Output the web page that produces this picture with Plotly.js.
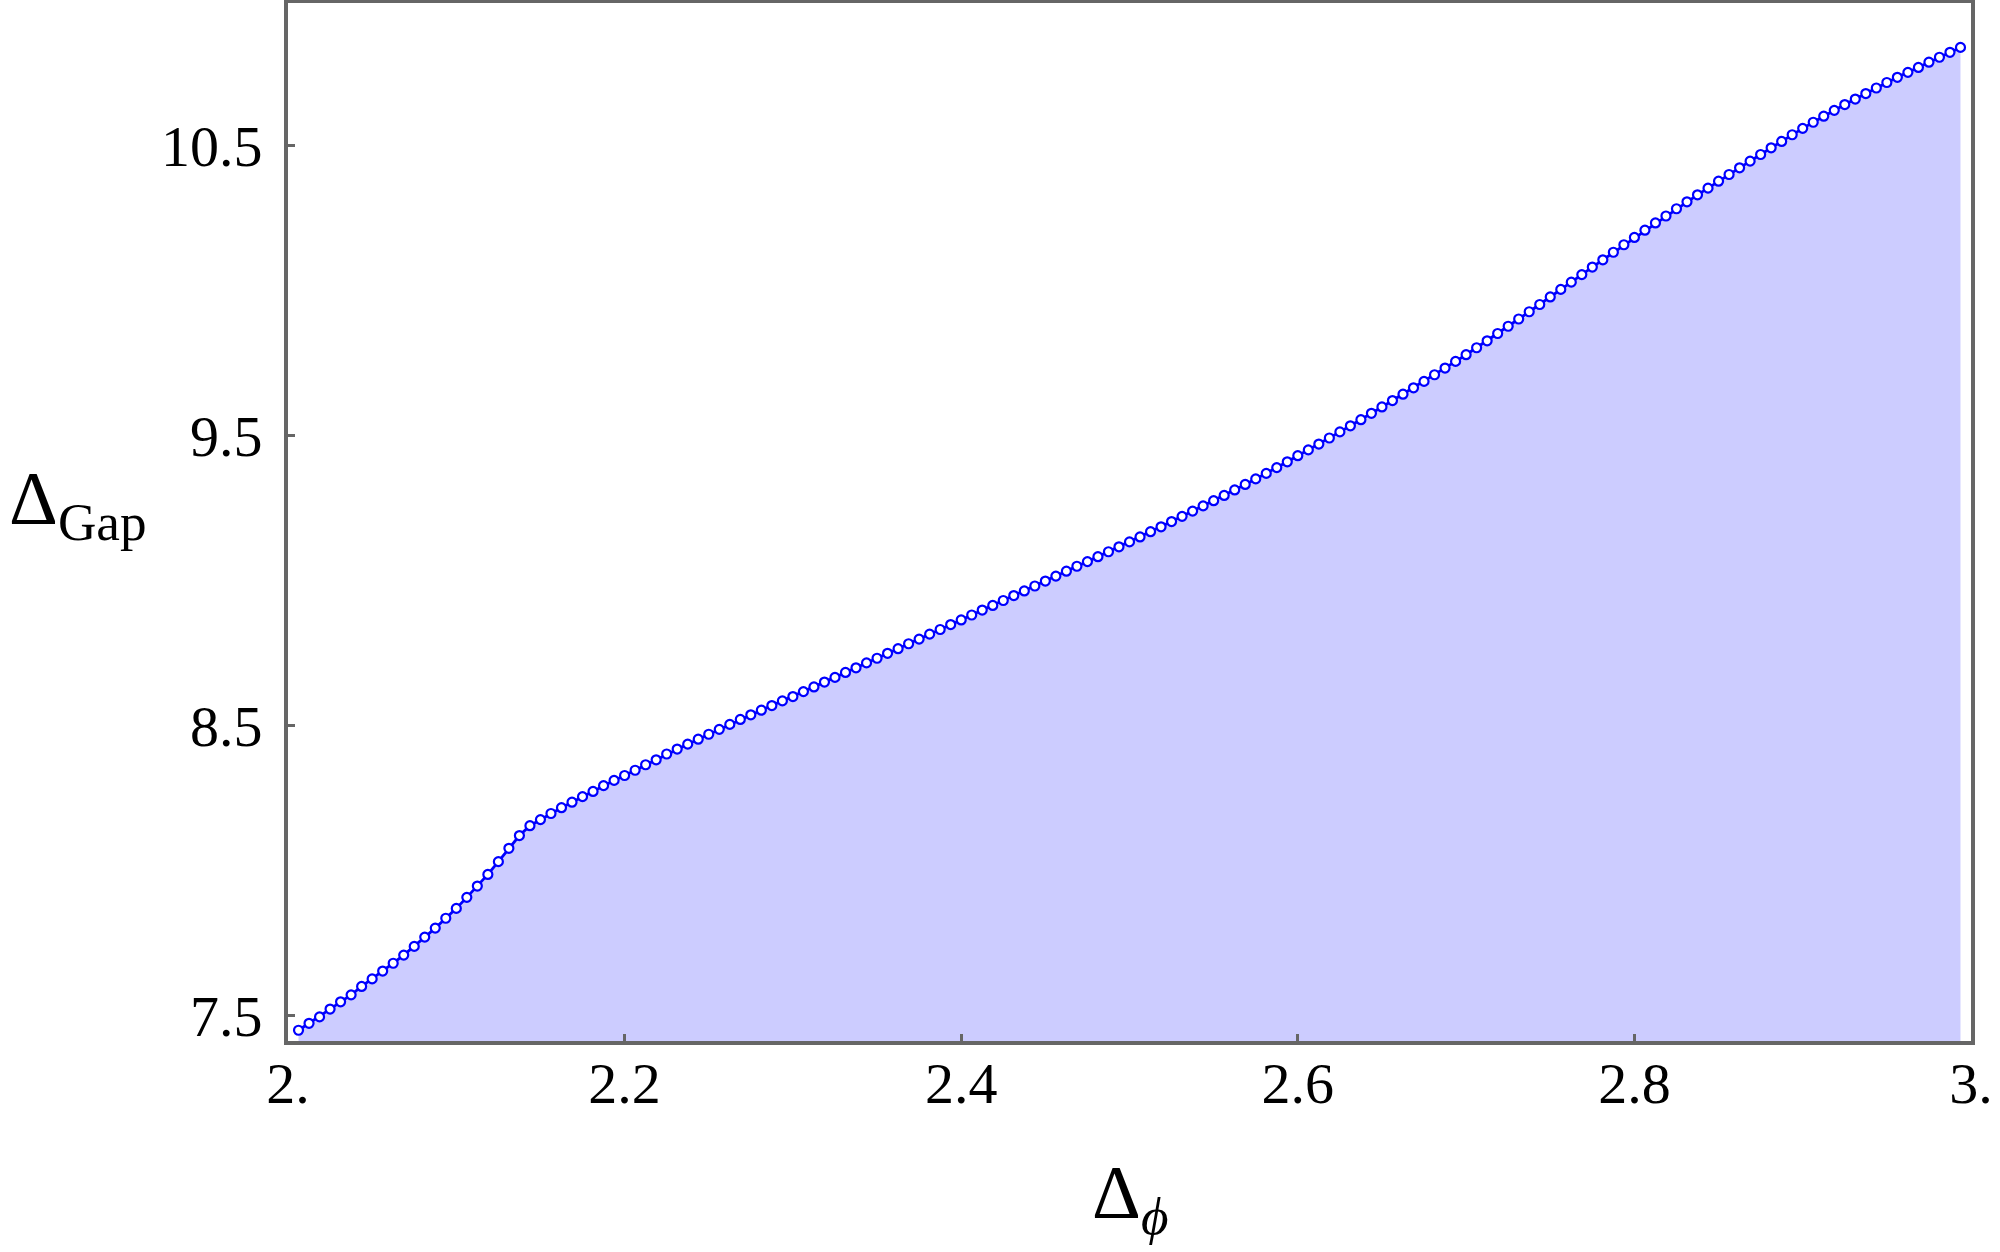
<!doctype html>
<html>
	<head>
		<meta charset="utf-8">
		<script src="https://cdn.plot.ly/plotly-3.0.1.min.js"></script>
		<style>
			html, body {
				margin: 0;
				background: #fff;
			}
		</style>
		<title>Gap vs Delta phi</title>
	</head>
	<body>
		<div id="chart"></div>
		<script>
			// sample points (grid step 1/160)
			let dphi = [
				2.00625, 2.0125, 2.01875, 2.025, 2.03125, 2.0375, 2.04375, 2.05, 2.05625, 2.0625,
				2.06875, 2.075, 2.08125, 2.0875, 2.09375, 2.1, 2.10625, 2.1125, 2.11875, 2.125,
				2.13125, 2.1375, 2.14375, 2.15, 2.15625, 2.1625, 2.16875, 2.175, 2.18125, 2.1875,
				2.19375, 2.2, 2.20625, 2.2125, 2.21875, 2.225, 2.23125, 2.2375, 2.24375, 2.25,
				2.25625, 2.2625, 2.26875, 2.275, 2.28125, 2.2875, 2.29375, 2.3, 2.30625, 2.3125,
				2.31875, 2.325, 2.33125, 2.3375, 2.34375, 2.35, 2.35625, 2.3625, 2.36875, 2.375,
				2.38125, 2.3875, 2.39375, 2.4, 2.40625, 2.4125, 2.41875, 2.425, 2.43125, 2.4375,
				2.44375, 2.45, 2.45625, 2.4625, 2.46875, 2.475, 2.48125, 2.4875, 2.49375, 2.5,
				2.50625, 2.5125, 2.51875, 2.525, 2.53125, 2.5375, 2.54375, 2.55, 2.55625, 2.5625,
				2.56875, 2.575, 2.58125, 2.5875, 2.59375, 2.6, 2.60625, 2.6125, 2.61875, 2.625,
				2.63125, 2.6375, 2.64375, 2.65, 2.65625, 2.6625, 2.66875, 2.675, 2.68125, 2.6875,
				2.69375, 2.7, 2.70625, 2.7125, 2.71875, 2.725, 2.73125, 2.7375, 2.74375, 2.75,
				2.75625, 2.7625, 2.76875, 2.775, 2.78125, 2.7875, 2.79375, 2.8, 2.80625, 2.8125,
				2.81875, 2.825, 2.83125, 2.8375, 2.84375, 2.85, 2.85625, 2.8625, 2.86875, 2.875,
				2.88125, 2.8875, 2.89375, 2.9, 2.90625, 2.9125, 2.91875, 2.925, 2.93125, 2.9375,
				2.94375, 2.95, 2.95625, 2.9625, 2.96875, 2.975, 2.98125, 2.9875, 2.99375
			]
			let gap = [
				7.450, 7.474, 7.496, 7.523, 7.548, 7.572, 7.601, 7.627, 7.654, 7.681,
				7.709, 7.739, 7.771, 7.802, 7.836, 7.870, 7.908, 7.947, 7.987, 8.031,
				8.077, 8.121, 8.155, 8.176, 8.197, 8.217, 8.236, 8.255, 8.273, 8.293,
				8.311, 8.328, 8.346, 8.365, 8.382, 8.402, 8.419, 8.436, 8.453, 8.470,
				8.487, 8.504, 8.521, 8.537, 8.553, 8.569, 8.585, 8.600, 8.617, 8.633,
				8.650, 8.666, 8.683, 8.699, 8.716, 8.732, 8.749, 8.765, 8.782, 8.798,
				8.815, 8.831, 8.848, 8.864, 8.881, 8.898, 8.914, 8.931, 8.948, 8.964,
				8.981, 8.998, 9.015, 9.032, 9.049, 9.065, 9.082, 9.099, 9.116, 9.133,
				9.150, 9.168, 9.185, 9.203, 9.221, 9.239, 9.257, 9.275, 9.293, 9.312,
				9.331, 9.350, 9.369, 9.389, 9.409, 9.430, 9.450, 9.470, 9.491, 9.512,
				9.533, 9.554, 9.576, 9.598, 9.620, 9.642, 9.664, 9.686, 9.709, 9.732,
				9.755, 9.778, 9.802, 9.826, 9.851, 9.876, 9.901, 9.926, 9.951, 9.977,
				10.003, 10.028, 10.054, 10.080, 10.105, 10.131, 10.157, 10.182, 10.207, 10.232,
				10.256, 10.281, 10.305, 10.329, 10.352, 10.376, 10.399, 10.422, 10.445, 10.468,
				10.491, 10.513, 10.536, 10.558, 10.579, 10.600, 10.620, 10.640, 10.659, 10.678,
				10.697, 10.716, 10.734, 10.751, 10.768, 10.786, 10.803, 10.820, 10.837
			]
			let xTicks = [2, 2.2, 2.4, 2.6, 2.8, 3]
			let xTickText = ['2.', '2.2', '2.4', '2.6', '2.8', '3.']
			let yTicks = [7.5, 8.5, 9.5, 10.5]
			let yTickText = ['7.5', '8.5', '9.5', '10.5']

			let serif = 'Liberation Serif, Times New Roman, serif'
			let frame = '#666666'

			let trace = {
				x: dphi,
				y: gap,
				type: 'scatter',
				mode: 'lines+markers',
				fill: 'tozeroy',
				fillcolor: 'rgb(204,204,255)',
				line: { color: '#0000ff', width: 2.8 },
				marker: {
					symbol: 'circle',
					size: 9,
					color: '#ffffff',
					line: { color: '#0000ff', width: 2.2 }
				},
				hoverinfo: 'skip'
			}

			let axis = {
				showline: true,
				mirror: true,
				linecolor: frame,
				linewidth: 4,
				ticks: 'inside',
				ticklen: 7,
				tickwidth: 3,
				tickcolor: frame,
				showgrid: false,
				zeroline: false,
				tickmode: 'array',
				tickfont: { family: serif, size: 58, color: '#000' }
			}

			Plotly.newPlot('chart', [trace], {
				width: 2000,
				height: 1252,
				margin: { l: 288, r: 29, t: 3, b: 211 },
				paper_bgcolor: '#fff',
				plot_bgcolor: '#fff',
				showlegend: false,
				xaxis: Object.assign({}, axis, {
					range: [2, 3],
					tickvals: xTicks,
					ticktext: xTickText,
					ticklabelstandoff: -12
				}),
				yaxis: Object.assign({}, axis, {
					range: [7.413, 10.99],
					tickvals: yTicks,
					ticktext: yTickText,
					ticklabelstandoff: 10
				}),
				annotations: [
					{
						text: 'Δ<sub><i>ϕ</i></sub>',
						xref: 'paper', yref: 'paper',
						x: 0.5, y: -0.103,
						xanchor: 'center', yanchor: 'top',
						showarrow: false,
						font: { family: serif, size: 76, color: '#000' }
					},
					{
						text: 'Δ<sub>Gap</sub>',
						xref: 'paper', yref: 'paper',
						x: -0.167, y: 0.517,
						xanchor: 'left', yanchor: 'middle',
						showarrow: false,
						font: { family: serif, size: 76, color: '#000' }
					}
				]
			}, { staticPlot: true })
		</script>
	</body>
</html>
